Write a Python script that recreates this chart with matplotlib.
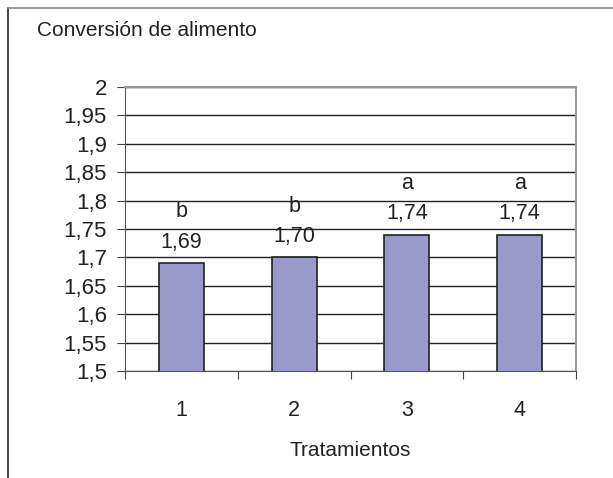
import matplotlib
matplotlib.use("Agg")
import matplotlib.pyplot as plt
from matplotlib.lines import Line2D

categories = ["1", "2", "3", "4"]
values = [1.69, 1.70, 1.74, 1.74]
value_labels = ["1,69", "1,70", "1,74", "1,74"]
letters = ["b", "b", "a", "a"]
yticks = [1.5, 1.55, 1.6, 1.65, 1.7, 1.75, 1.8, 1.85, 1.9, 1.95, 2.0]
ytick_labels = ["1,5", "1,55", "1,6", "1,65", "1,7", "1,75", "1,8", "1,85", "1,9", "1,95", "2"]

plt.rcParams['font.family'] = ['Liberation Sans', 'DejaVu Sans']
W, H = 613, 478
fig = plt.figure(figsize=(W/100, H/100), dpi=100)
ax = fig.add_axes([125/W, 1-371/H, (576-125)/W, (371-87)/H])

x = list(range(len(categories)))
ax.bar(x, values, width=0.4, bottom=0, color="#9999cc", edgecolor="#222222", linewidth=1.2, zorder=3)
ax.set_xlim(-0.5, 3.5)
ax.set_ylim(1.5, 2.0)
ax.set_yticks(yticks)
ax.set_yticklabels(ytick_labels, fontsize=16, color="#222222")
ax.set_xticks([-0.5, 0.5, 1.5, 2.5, 3.5])
ax.set_xticklabels([])
ax.set_xticks(x, minor=True)
ax.set_xticklabels(categories, minor=True, fontsize=15.5, color="#222222")
ax.tick_params(axis='x', which='minor', length=0, pad=21)
ax.tick_params(axis='x', which='major', length=6, direction='out', color="#444444")
ax.tick_params(axis='y', length=6, direction='out', color="#444444", pad=7)
ax.yaxis.grid(True, color="#222222", linewidth=1.0, zorder=0)
ax.set_axisbelow(True)
for s in ['top', 'right']:
    ax.spines[s].set_color("#999999")
    ax.spines[s].set_linewidth(1.5)
ax.spines['left'].set_color("#555555")
ax.spines['bottom'].set_color("#555555")
ax.set_xlabel("Tratamientos", fontsize=15, color="#222222", labelpad=14)

for xi, v, vl, le in zip(x, values, value_labels, letters):
    ax.annotate(vl, (xi, v), xytext=(0, 15), textcoords="offset points", ha="center", va="center", fontsize=15.5, color="#222222")
    ax.annotate(le, (xi, v), xytext=(0, 37), textcoords="offset points", ha="center", va="center", fontsize=15.5, color="#222222")

fig.text(37/W, 1-31/H, "Conversión de alimento", fontsize=15, color="#222222", va="center", ha="left")

fig.add_artist(Line2D([8/W, 8/W], [0, 1-8/H], color="#222222", linewidth=1.2))
fig.add_artist(Line2D([8/W, 1], [1-8/H, 1-8/H], color="#888888", linewidth=1.2))

fig.savefig("out.png", dpi=100)
